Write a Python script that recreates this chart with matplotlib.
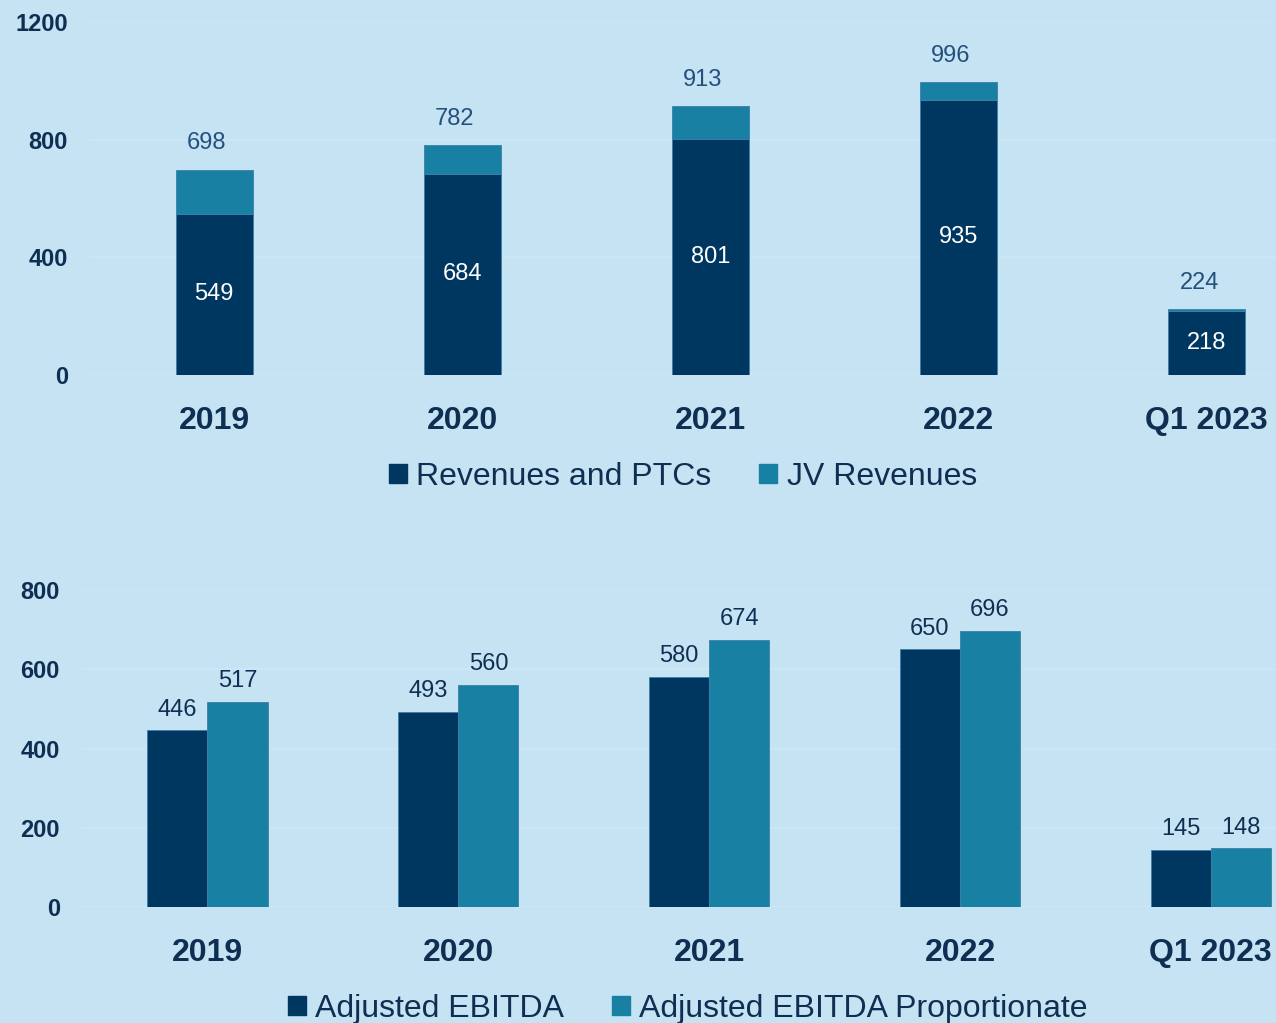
import numpy as np
import matplotlib
matplotlib.use("Agg")
from matplotlib import pyplot as plt
from matplotlib.patches import Patch

plt.rcParams['font.family'] = ['Liberation Sans', 'DejaVu Sans']

# data
years = ["2019", "2020", "2021", "2022", "Q1 2023"]
rev_ptc = [549, 684, 801, 935, 218]
rev_total = [698, 782, 913, 996, 224]
jv_rev = [t - r for t, r in zip(rev_total, rev_ptc)]
adj_ebitda = [446, 493, 580, 650, 145]
adj_ebitda_prop = [517, 560, 674, 696, 148]

BG = "#c5e3f3"
NAVY = "#003761"
TEAL = "#1880a2"
GRID = "#cde8f7"
TXT = "#0e2f52"

W, H = 1276, 1023
fig = plt.figure(figsize=(W / 100, H / 100), dpi=100, facecolor=BG)

def style(ax, ticks, pad_y):
    ax.set_facecolor(BG)
    for s in ax.spines.values():
        s.set_visible(False)
    ax.set_yticks(ticks)
    ax.yaxis.grid(True, color=GRID, lw=1.2)
    ax.set_axisbelow(True)
    ax.tick_params(axis='y', length=0, pad=pad_y, labelsize=17, labelcolor=TXT)
    for lab in ax.get_yticklabels():
        lab.set_fontweight('bold')
    ax.tick_params(axis='x', length=0, pad=22, labelsize=23, labelcolor=TXT)
    ax.set_xticks(np.arange(len(years)))
    ax.set_xticklabels(years, fontweight='bold')

leg_kw = dict(loc='center', ncol=2, frameon=False, fontsize=23, labelcolor=TXT,
              handlelength=0.55, handleheight=0.55, handletextpad=0.3, columnspacing=1.5)

# ---- top chart: revenues
ax1 = fig.add_axes([90 / W, 1 - 375 / H, 1 - 90 / W, (375 - 22) / H])
x = np.arange(len(years))
bw = 0.31
ax1.bar(x, rev_ptc, bw, color=NAVY, edgecolor="#3d7ea8", lw=0.6)
ax1.bar(x, jv_rev, bw, bottom=rev_ptc, color=TEAL, edgecolor="#3d7ea8", lw=0.6)
ax1.set_ylim(0, 1200)
ax1.set_xlim(-0.5, 4.28)
style(ax1, [0, 400, 800, 1200], 16)

for xi, r, t in zip(x, rev_ptc, rev_total):
    ax1.text(xi, r / 2, str(r), ha='center', va='center', color='white', fontsize=17)
    ax1.annotate(str(t), (xi - 0.03, t), xytext=(0, 11), textcoords='offset points',
                 ha='center', va='bottom', color="#24507c", fontsize=17)

fig.legend(handles=[Patch(color=NAVY, label="Revenues and PTCs"),
                    Patch(color=TEAL, label="JV Revenues")],
           bbox_to_anchor=(683 / W, 1 - 477 / H), **leg_kw)

# ---- bottom chart: EBITDA
ax2 = fig.add_axes([82 / W, 1 - 907 / H, 1 - 82 / W, (907 - 590) / H])
bw2 = 0.24
ax2.bar(x - bw2 / 2, adj_ebitda, bw2, color=NAVY, edgecolor="#3d7ea8", lw=0.6)
ax2.bar(x + bw2 / 2, adj_ebitda_prop, bw2, color=TEAL, edgecolor="#3d7ea8", lw=0.6)
ax2.set_ylim(0, 800)
ax2.set_xlim(-0.5, 4.26)
style(ax2, [0, 200, 400, 600, 800], 16)

for xi, a, b in zip(x, adj_ebitda, adj_ebitda_prop):
    ax2.annotate(str(a), (xi - bw2 / 2, a), xytext=(0, 7), textcoords='offset points',
                 ha='center', va='bottom', color=TXT, fontsize=17)
    ax2.annotate(str(b), (xi + bw2 / 2, b), xytext=(0, 7), textcoords='offset points',
                 ha='center', va='bottom', color=TXT, fontsize=17)

fig.legend(handles=[Patch(color=NAVY, label="Adjusted EBITDA"),
                    Patch(color=TEAL, label="Adjusted EBITDA Proportionate")],
           bbox_to_anchor=(688 / W, 1 - 1009 / H), **leg_kw)

fig.savefig("out.png", dpi=100, facecolor=BG)
